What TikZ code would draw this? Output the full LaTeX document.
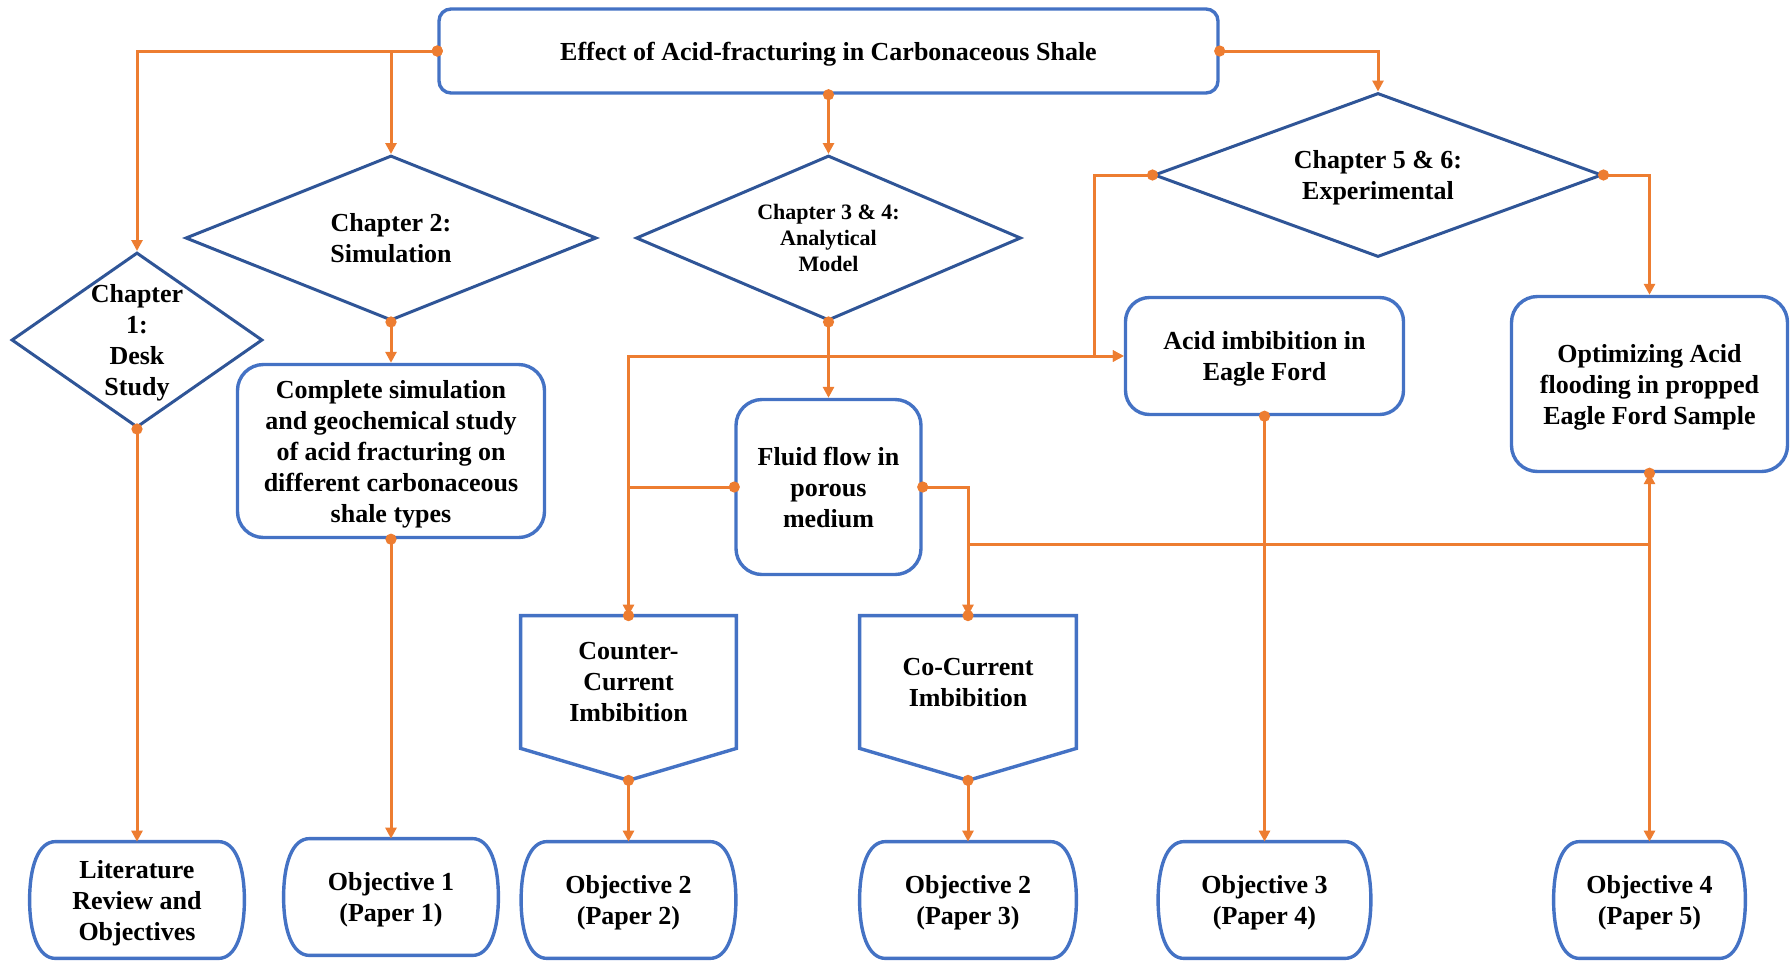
\documentclass[tikz,border=0pt]{standalone}
\usepackage{fontspec}
\setmainfont{Liberation Serif}
\usetikzlibrary{arrows.meta}
\usetikzlibrary{shapes.geometric}

\definecolor{boxblue}{RGB}{68,114,196}
\definecolor{chapnavy}{RGB}{47,85,151}
\definecolor{flowor}{RGB}{237,125,49}

\begin{document}
\begin{tikzpicture}[x=0.5pt,y=-0.5pt,>={Triangle[length=5.5pt,width=5.5pt]},
    font=\bfseries\fontsize{13}{15.5}\selectfont,
    low/.style={text depth=-0.9pt},
    boxline/.style={draw=boxblue,line width=1.7pt},
    box/.style={boxline,rounded corners=13pt,align=center,inner sep=2pt,low},
    plain/.style={align=center,inner sep=0pt},
    chap/.style={shape=diamond,draw=chapnavy,line width=1.5pt,inner sep=0pt},
    link/.style={draw=flowor,line width=1.5pt,shorten <=-2.75pt,{Circle[length=5.5pt]}->}]

    \useasboundingbox (0,0) rectangle (1790,960);

    % Title
    \node[box,rounded corners=6pt,minimum width=389.5pt,minimum height=42pt] (top) at (828.5,51) {Effect of Acid-fracturing in Carbonaceous Shale};

    % Chapter diamonds
    \node[chap,minimum width=125.5pt,minimum height=87.5pt] (ch1) at (137,340) {};
    \node[plain,text depth=-1.8pt] (ch1t) at (ch1) {Chapter\\1:\\Desk\\Study};
    \node[chap,minimum width=205.5pt,minimum height=82.5pt] (ch2) at (391,238) {};
    \node[plain] (ch2t) at (ch2) {Chapter 2:\\Simulation};
    \node[chap,minimum width=192.5pt,minimum height=82.5pt] (ch34) at (828.5,238) {};
    \node[plain,font=\bfseries\fontsize{11}{13}\selectfont] (ch34t) at (ch34) {Chapter 3 \& 4:\\Analytical\\Model};
    \node[chap,minimum width=224pt,minimum height=82pt] (ch56) at (1378,175) {};
    \node[plain,text depth=-1.8pt] (ch56t) at (ch56) {Chapter 5 \& 6:\\Experimental};

    % Study boxes
    \node[box,minimum width=153.5pt,minimum height=86.5pt] (sim) at (391,451) {Complete simulation\\and geochemical study\\of acid fracturing on\\different carbonaceous\\shale types};
    \node[box,minimum width=92.5pt,minimum height=87.5pt] (flow) at (828.5,487) {Fluid flow in\\porous\\medium};
    \node[box,rounded corners=12pt,minimum width=139pt,minimum height=58.5pt] (imb) at (1264.5,356) {Acid imbibition in\\Eagle Ford};
    \node[box,minimum width=138pt,minimum height=87.5pt] (opt) at (1649.5,384) {Optimizing Acid\\flooding in propped\\Eagle Ford Sample};

    % Imbibition pentagons
    \node[plain,low,minimum width=107.5pt,minimum height=66pt] (cc) at (628.5,682) {Counter-\\Current\\Imbibition};
    \node[plain,low,minimum width=108pt,minimum height=66pt] (co) at (968,682) {Co-Current\\Imbibition};
    \foreach \n in {cc,co} {
        \draw[boxline] (\n.north west) -- (\n.north east) -- (\n.south east) -- ([yshift=-16pt]\n.south) -- (\n.south west) -- cycle;
        \coordinate (\n tip) at ([yshift=-16pt]\n.south);
    }

    % Objectives
    \node[plain,low,minimum width=107pt,minimum height=58pt] (lit) at (137,900) {Literature\\Review and\\Objectives};
    \node[plain,low,minimum width=107pt,minimum height=58pt] (p1) at (391,897) {Objective 1\\(Paper 1)};
    \node[plain,low,minimum width=107pt,minimum height=58pt] (p2) at (628.5,900) {Objective 2\\(Paper 2)};
    \node[plain,low,minimum width=108pt,minimum height=58pt] (p3) at (968,900) {Objective 2\\(Paper 3)};
    \node[plain,low,minimum width=106pt,minimum height=58pt] (p4) at (1264.5,900) {Objective 3\\(Paper 4)};
    \node[plain,low,minimum width=95.5pt,minimum height=58pt] (p5) at (1649.5,900) {Objective 4\\(Paper 5)};
    \foreach \n in {lit,p1,p2,p3,p4,p5}
        \draw[boxline] ([xshift=13pt]\n.north west) -- ([xshift=-13pt]\n.north east)
            .. controls +(9pt,0pt) and +(0pt,16pt) .. (\n.east)
            .. controls +(0pt,-16pt) and +(9pt,0pt) .. ([xshift=-13pt]\n.south east)
            -- ([xshift=13pt]\n.south west)
            .. controls +(-9pt,0pt) and +(0pt,-16pt) .. (\n.west)
            .. controls +(0pt,16pt) and +(-9pt,0pt) .. ([xshift=13pt]\n.north west) -- cycle;

    % Junctions
    \coordinate (j1) at (1094,356);
    \coordinate (j2) at (968,544);

    % Arrows
    \draw[link] (top.west) -| (ch1.north);
    \draw[link] (top.west) -| (ch2.north);
    \draw[link] (top.south) -- (ch34.north);
    \draw[link] (top.east) -| (ch56.north);
    \draw[link] (ch1.south) -- (lit.north);
    \draw[link] (ch2.south) -- (sim.north);
    \draw[link] (sim.south) -- (p1.north);
    \draw[link] (ch34.south) -- (flow.north);
    \draw[link] (ch56.west) -| (j1) -- (imb.west);
    \draw[link] (ch56.east) -| (opt.north);
    \draw[link] (cc.north) |- (imb.west);
    \draw[link] (flow.west) -| (cc.north);
    \draw[link] (flow.east) -| (co.north);
    \draw[link] (co.north) -- (j2) -| (opt.south);
    \draw[link] (imb.south) -- (p4.north);
    \draw[link] (opt.south) -- (p5.north);
    \draw[link] (cctip) -- (p2.north);
    \draw[link] (cotip) -- (p3.north);

\end{tikzpicture}
\end{document}
